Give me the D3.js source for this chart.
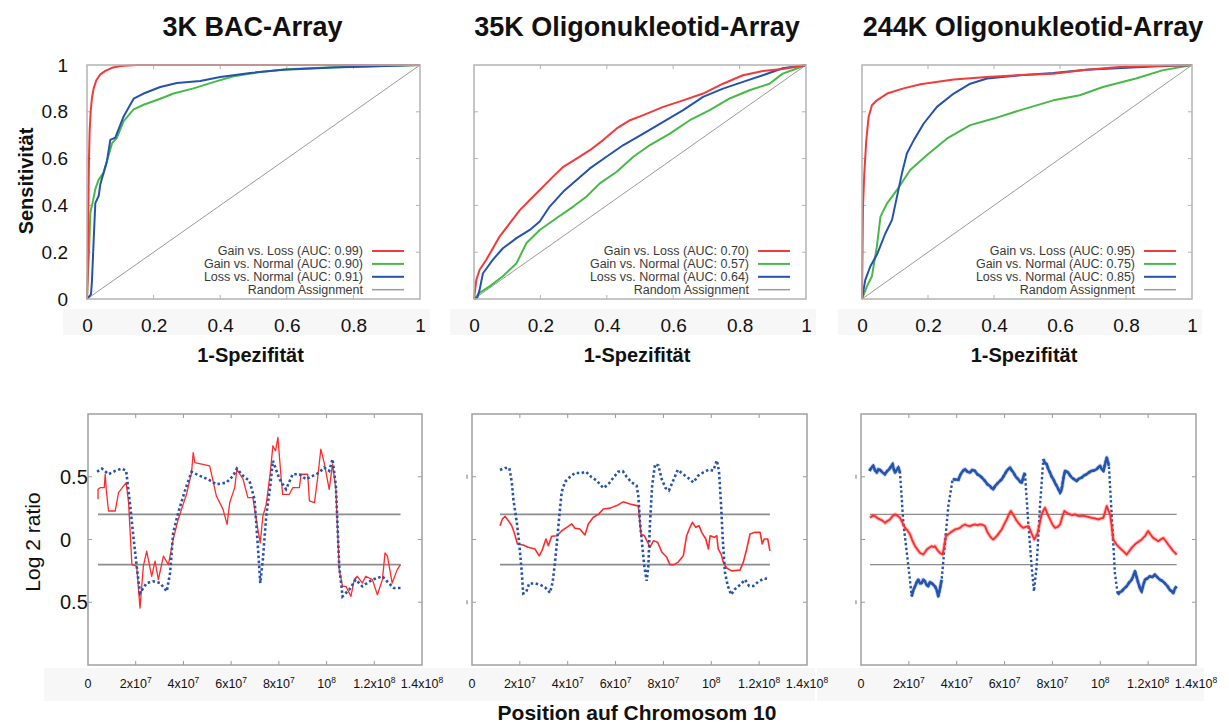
<!DOCTYPE html>
<html>
<head>
<meta charset="utf-8">
<script src="https://cdn.jsdelivr.net/npm/d3@7"></script>
<style>
  body { margin: 0; background: #ffffff; }
  text { font-family: "Liberation Sans", Arial, Helvetica, sans-serif; }
</style>
</head>
<body>
<svg id="fig" width="1229" height="726"></svg>
<script>
// ---------- ROC data: [1-Spezifität, Sensitivität] ----------
const panelTitles = ["3K BAC-Array", "35K Oligonukleotid-Array", "244K Oligonukleotid-Array"];
const rocTicks = [0, 0.2, 0.4, 0.6, 0.8, 1];
const rocTickLabels = ["0", "0.2", "0.4", "0.6", "0.8", "1"];
const randomAssignment = [[0, 0], [1, 1]];

const rocBacGainLoss = [[0,0],[0.002,0.1],[0.004,0.4],[0.006,0.6],[0.008,0.72],[0.011,0.8],[0.015,0.86],[0.02,0.9],[0.028,0.935],[0.04,0.96],[0.055,0.975],[0.075,0.988],[0.1,0.996],[0.15,1],[1,1]];
const rocBacGainNormal = [[0,0],[0.002,0.09],[0.006,0.2],[0.01,0.37],[0.018,0.42],[0.025,0.47],[0.035,0.51],[0.05,0.54],[0.06,0.59],[0.075,0.665],[0.09,0.69],[0.11,0.76],[0.14,0.81],[0.17,0.83],[0.22,0.856],[0.26,0.878],[0.32,0.9],[0.38,0.927],[0.44,0.952],[0.52,0.97],[0.6,0.982],[0.74,0.99],[1,1]];
const rocBacLossNormal = [[0,0],[0.012,0.02],[0.015,0.08],[0.02,0.25],[0.025,0.41],[0.035,0.44],[0.04,0.49],[0.05,0.54],[0.06,0.59],[0.07,0.68],[0.085,0.69],[0.11,0.78],[0.14,0.856],[0.17,0.878],[0.22,0.906],[0.27,0.923],[0.34,0.932],[0.4,0.949],[0.49,0.966],[0.59,0.98],[0.74,0.989],[1,1]];
const legendBac = ["Gain vs. Loss (AUC: 0.99)", "Gain vs. Normal (AUC: 0.90)", "Loss vs. Normal (AUC: 0.91)", "Random Assignment"];

const roc35GainLoss = [[0,0],[0.007,0.082],[0.017,0.125],[0.037,0.168],[0.057,0.217],[0.077,0.267],[0.108,0.324],[0.138,0.38],[0.168,0.423],[0.198,0.466],[0.238,0.523],[0.269,0.565],[0.309,0.6],[0.349,0.636],[0.389,0.679],[0.43,0.729],[0.47,0.764],[0.51,0.786],[0.57,0.821],[0.63,0.849],[0.69,0.878],[0.75,0.92],[0.81,0.956],[0.87,0.974],[0.93,0.983],[1,1]];
const roc35GainNormal = [[0,0],[0.017,0.026],[0.047,0.054],[0.087,0.097],[0.128,0.153],[0.158,0.239],[0.198,0.295],[0.248,0.345],[0.299,0.395],[0.339,0.438],[0.379,0.494],[0.43,0.544],[0.48,0.608],[0.53,0.658],[0.59,0.707],[0.65,0.764],[0.71,0.807],[0.77,0.857],[0.83,0.892],[0.89,0.92],[0.93,0.963],[0.97,0.984],[1,1]];
const roc35LossNormal = [[0,0],[0.01,0.005],[0.017,0.04],[0.027,0.11],[0.042,0.139],[0.057,0.168],[0.087,0.217],[0.128,0.26],[0.168,0.295],[0.198,0.331],[0.228,0.395],[0.269,0.459],[0.309,0.509],[0.349,0.558],[0.399,0.608],[0.45,0.658],[0.51,0.707],[0.57,0.757],[0.63,0.807],[0.69,0.864],[0.75,0.899],[0.81,0.928],[0.87,0.956],[0.93,0.986],[1,1]];
const legend35 = ["Gain vs. Loss (AUC: 0.70)", "Gain vs. Normal (AUC: 0.57)", "Loss vs. Normal (AUC: 0.64)", "Random Assignment"];

const roc244GainLoss = [[0,0],[0.003,0.395],[0.007,0.537],[0.013,0.679],[0.02,0.778],[0.03,0.828],[0.045,0.849],[0.076,0.878],[0.126,0.9],[0.177,0.918],[0.278,0.938],[0.379,0.949],[0.48,0.957],[0.58,0.963],[0.68,0.98],[0.78,0.991],[1,1]];
const roc244GainNormal = [[0,0],[0.015,0.054],[0.03,0.097],[0.045,0.224],[0.056,0.352],[0.076,0.409],[0.106,0.466],[0.146,0.551],[0.197,0.615],[0.258,0.686],[0.328,0.743],[0.399,0.771],[0.48,0.807],[0.58,0.849],[0.66,0.871],[0.73,0.906],[0.83,0.942],[0.91,0.977],[1,1]];
const roc244LossNormal = [[0,0],[0.01,0.082],[0.025,0.139],[0.045,0.189],[0.071,0.281],[0.091,0.338],[0.106,0.4375],[0.121,0.537],[0.136,0.622],[0.157,0.679],[0.187,0.75],[0.227,0.821],[0.278,0.878],[0.328,0.92],[0.379,0.942],[0.48,0.956],[0.58,0.966],[0.68,0.98],[0.88,0.994],[1,1]];
const legend244 = ["Gain vs. Loss (AUC: 0.95)", "Gain vs. Normal (AUC: 0.75)", "Loss vs. Normal (AUC: 0.85)", "Random Assignment"];

// ---------- Chromosome 10 profiles: [position (x10^7 bp), log2 ratio] ----------
const chrTicks = [0, 2, 4, 6, 8, 10, 12, 14];
const chrTickBase = ["0", "2x10", "4x10", "6x10", "8x10", "10", "1.2x10", "1.4x10"];
const chrTickExp = ["", "7", "7", "7", "7", "8", "8", "8"];
const ratioTicks = [0.5, 0, -0.5];
const ratioTickLabels = ["0.5", "0", "0.5"];
const thresholds = [0.2, -0.2];

const bacSmoothed = [[0.38,0.54],[0.58,0.565],[0.86,0.52],[1.14,0.547],[1.42,0.565],[1.6,0.547],[1.77,0.267],[1.9,0.027],[2.04,-0.213],[2.18,-0.427],[2.46,-0.347],[2.74,-0.333],[3.02,-0.347],[3.3,-0.413],[3.44,-0.267],[3.57,0.053],[3.78,0.213],[4.06,0.387],[4.34,0.539],[4.69,0.507],[5.03,0.48],[5.38,0.44],[5.8,0.453],[6.08,0.507],[6.24,0.565],[6.5,0.507],[6.77,0.467],[6.98,0.32],[7.12,-0.053],[7.22,-0.347],[7.33,-0.16],[7.47,0.187],[7.64,0.427],[7.75,0.627],[8.03,0.48],[8.3,0.4],[8.58,0.52],[8.86,0.52],[9.14,0.48],[9.42,0.507],[9.69,0.533],[9.9,0.573],[10.11,0.547],[10.25,0.64],[10.39,0.427],[10.53,-0.213],[10.67,-0.453],[10.95,-0.4],[11.22,-0.32],[11.5,-0.373],[11.92,-0.32],[12.34,-0.293],[12.6,-0.347],[12.82,-0.387],[13.1,-0.387]];
const bacRaw = [[0.42,0.32],[0.42,0.4],[0.51,0.413],[0.68,0.413],[0.72,0.52],[0.77,0.387],[0.86,0.227],[1.14,0.227],[1.28,0.373],[1.6,0.453],[1.7,0.293],[1.84,-0.2],[2.04,-0.213],[2.18,-0.547],[2.32,-0.213],[2.46,-0.093],[2.67,-0.293],[2.81,-0.173],[2.95,-0.32],[3.16,-0.133],[3.37,-0.2],[3.57,0],[3.78,0.16],[4.13,0.36],[4.34,0.533],[4.41,0.693],[4.48,0.613],[5.1,0.587],[5.38,0.347],[5.66,0.24],[5.83,0.12],[5.94,0.293],[6.15,0.413],[6.24,0.56],[6.5,0.48],[6.7,0.333],[6.91,0.333],[7.12,0.08],[7.22,-0.027],[7.33,0.187],[7.47,0.28],[7.64,0.533],[7.75,0.747],[7.86,0.707],[7.96,0.813],[8.1,0.48],[8.16,0.36],[8.44,0.36],[8.58,0.413],[8.86,0.413],[8.93,0.52],[9.21,0.52],[9.28,0.307],[9.49,0.293],[9.62,0.48],[9.76,0.72],[9.9,0.613],[10.11,0.4],[10.25,0.6],[10.39,0.4],[10.53,-0.24],[10.67,-0.373],[10.81,-0.373],[11.02,-0.453],[11.16,-0.32],[11.29,-0.293],[11.5,-0.347],[11.64,-0.293],[11.92,-0.32],[12.13,-0.44],[12.34,-0.32],[12.45,-0.107],[12.55,-0.133],[12.75,-0.347],[12.96,-0.24],[13.1,-0.2]];

const oligo35Smoothed = [[1.17,0.554],[1.38,0.57],[1.56,0.57],[1.66,0.46],[1.73,0.32],[1.87,0.14],[1.98,-0.045],[2.08,-0.26],[2.14,-0.43],[2.26,-0.42],[2.39,-0.35],[2.63,-0.35],[2.84,-0.36],[3.05,-0.38],[3.26,-0.425],[3.37,-0.34],[3.47,-0.18],[3.56,0.0],[3.65,0.19],[3.75,0.38],[3.89,0.46],[4.1,0.5],[4.3,0.53],[4.58,0.53],[4.76,0.54],[5.0,0.496],[5.21,0.47],[5.49,0.41],[5.7,0.44],[5.9,0.49],[6.11,0.54],[6.3,0.545],[6.46,0.5],[6.67,0.455],[6.88,0.43],[6.95,0.35],[7.02,0.14],[7.09,0.0],[7.2,-0.21],[7.3,-0.33],[7.37,-0.21],[7.44,0.14],[7.53,0.43],[7.65,0.6],[7.79,0.59],[7.93,0.48],[8.09,0.41],[8.23,0.39],[8.41,0.47],[8.6,0.555],[8.83,0.52],[9.04,0.49],[9.25,0.455],[9.46,0.51],[9.67,0.535],[9.88,0.555],[10.09,0.55],[10.23,0.63],[10.32,0.55],[10.41,0.27],[10.48,0.0],[10.57,-0.26],[10.69,-0.37],[10.83,-0.44],[10.99,-0.395],[11.24,-0.355],[11.41,-0.32],[11.58,-0.37],[11.76,-0.37],[11.97,-0.335],[12.22,-0.31],[12.41,-0.315]];
const oligo35Raw = [[1.17,0.11],[1.27,0.163],[1.38,0.185],[1.52,0.15],[1.66,0.11],[1.76,0.057],[1.9,-0.036],[2.14,-0.044],[2.35,-0.062],[2.63,-0.076],[2.81,-0.13],[2.95,-0.076],[3.09,0.004],[3.19,-0.05],[3.33,0.026],[3.56,0.03],[3.75,0.07],[3.96,0.097],[4.17,0.124],[4.3,0.09],[4.51,0.084],[4.72,0.036],[4.86,0.124],[5.07,0.177],[5.28,0.2],[5.49,0.243],[5.77,0.25],[6.05,0.27],[6.32,0.3],[6.6,0.283],[6.88,0.27],[6.95,0.27],[7.06,0.044],[7.2,0.03],[7.34,-0.022],[7.44,-0.062],[7.58,-0.01],[7.76,-0.022],[7.93,-0.1],[8.14,-0.142],[8.27,-0.2],[8.45,-0.2],[8.62,-0.18],[8.83,-0.13],[8.97,0.03],[9.11,0.097],[9.21,0.137],[9.35,0.097],[9.49,0.11],[9.6,0.057],[9.77,0.004],[9.88,-0.076],[9.95,0.03],[10.13,0.017],[10.23,0.03],[10.29,-0.076],[10.41,-0.116],[10.5,-0.18],[10.64,-0.227],[10.85,-0.25],[11.2,-0.244],[11.34,-0.18],[11.48,-0.076],[11.62,0.044],[11.83,0.057],[12.04,0.057],[12.13,-0.036],[12.21,0.004],[12.36,0.004],[12.45,-0.09]];

const oligo244Smoothed = [[0.35,0.547],[0.43,0.57],[0.51,0.587],[0.59,0.55],[0.66,0.533],[0.72,0.56],[0.79,0.555],[0.9,0.535],[1.0,0.52],[1.09,0.545],[1.18,0.56],[1.25,0.58],[1.32,0.6],[1.37,0.56],[1.42,0.533],[1.49,0.555],[1.56,0.573],[1.63,0.533],[1.77,0.133],[1.98,-0.213],[2.12,-0.453],[2.19,-0.4],[2.26,-0.373],[2.33,-0.34],[2.39,-0.32],[2.47,-0.35],[2.54,-0.347],[2.6,-0.32],[2.67,-0.333],[2.74,-0.36],[2.81,-0.373],[2.88,-0.34],[2.95,-0.347],[3.02,-0.36],[3.09,-0.373],[3.16,-0.4],[3.23,-0.453],[3.3,-0.39],[3.37,-0.32],[3.51,-0.027],[3.65,0.267],[3.83,0.48],[4.07,0.475],[4.14,0.51],[4.21,0.533],[4.28,0.55],[4.35,0.56],[4.45,0.54],[4.55,0.533],[4.65,0.555],[4.76,0.547],[4.86,0.52],[4.97,0.507],[5.07,0.49],[5.18,0.467],[5.28,0.44],[5.39,0.427],[5.46,0.41],[5.53,0.4],[5.6,0.425],[5.67,0.44],[5.77,0.46],[5.88,0.48],[5.98,0.51],[6.09,0.547],[6.16,0.56],[6.23,0.573],[6.3,0.55],[6.37,0.533],[6.47,0.5],[6.57,0.48],[6.65,0.46],[6.72,0.453],[6.79,0.5],[6.85,0.533],[6.99,0.133],[7.13,-0.213],[7.23,-0.413],[7.34,-0.213],[7.48,0.267],[7.62,0.64],[7.69,0.61],[7.76,0.6],[7.83,0.56],[7.9,0.533],[7.97,0.5],[8.04,0.48],[8.11,0.45],[8.18,0.427],[8.25,0.4],[8.32,0.373],[8.37,0.39],[8.41,0.427],[8.47,0.5],[8.53,0.547],[8.6,0.54],[8.66,0.533],[8.74,0.51],[8.81,0.493],[8.91,0.48],[9.01,0.467],[9.11,0.485],[9.22,0.493],[9.32,0.51],[9.43,0.52],[9.53,0.535],[9.64,0.547],[9.74,0.55],[9.85,0.56],[9.92,0.575],[9.99,0.587],[10.06,0.56],[10.13,0.547],[10.2,0.6],[10.27,0.653],[10.36,0.587],[10.48,0.187],[10.61,-0.267],[10.73,-0.44],[10.81,-0.42],[10.89,-0.413],[11.0,-0.39],[11.1,-0.373],[11.2,-0.345],[11.31,-0.32],[11.38,-0.29],[11.45,-0.253],[11.52,-0.3],[11.59,-0.347],[11.66,-0.39],[11.73,-0.413],[11.8,-0.36],[11.87,-0.32],[11.97,-0.31],[12.07,-0.293],[12.18,-0.3],[12.28,-0.28],[12.38,-0.3],[12.49,-0.32],[12.59,-0.33],[12.69,-0.347],[12.8,-0.37],[12.9,-0.4],[12.97,-0.41],[13.05,-0.427],[13.12,-0.39],[13.19,-0.373]];
const oligo244SmoothedDense = [[0.3,1.65],[2.1,3.4],[3.8,6.86],[7.6,10.37],[10.7,13.25]];
const oligo244Raw = [[0.38,0.173],[0.48,0.19],[0.59,0.187],[0.69,0.17],[0.79,0.16],[0.9,0.15],[1.0,0.133],[1.1,0.148],[1.21,0.16],[1.31,0.185],[1.42,0.2],[1.52,0.19],[1.63,0.173],[1.74,0.13],[1.84,0.093],[1.95,0.07],[2.05,0.04],[2.15,-0.01],[2.26,-0.053],[2.36,-0.08],[2.47,-0.107],[2.6,-0.12],[2.68,-0.1],[2.75,-0.08],[2.85,-0.065],[2.95,-0.053],[3.02,-0.06],[3.09,-0.053],[3.16,-0.075],[3.23,-0.093],[3.32,-0.11],[3.41,-0.12],[3.48,-0.05],[3.55,0.027],[3.63,0.04],[3.72,0.053],[3.83,0.068],[3.93,0.08],[4.03,0.085],[4.14,0.093],[4.24,0.11],[4.35,0.12],[4.45,0.11],[4.55,0.107],[4.66,0.115],[4.76,0.12],[4.86,0.115],[4.97,0.12],[5.07,0.118],[5.18,0.107],[5.28,0.06],[5.39,0.027],[5.46,0.01],[5.53,0],[5.6,0.015],[5.67,0.027],[5.78,0.055],[5.88,0.08],[5.98,0.12],[6.09,0.16],[6.18,0.2],[6.26,0.227],[6.35,0.2],[6.44,0.173],[6.5,0.15],[6.57,0.133],[6.67,0.11],[6.78,0.093],[6.88,0.1],[6.99,0.107],[7.06,0.08],[7.15,0.04],[7.24,0],[7.31,0.025],[7.38,0.053],[7.47,0.13],[7.55,0.2],[7.62,0.23],[7.69,0.253],[7.8,0.2],[7.9,0.16],[8.0,0.12],[8.11,0.093],[8.22,0.1],[8.32,0.12],[8.41,0.18],[8.5,0.227],[8.62,0.21],[8.73,0.2],[8.84,0.195],[8.94,0.2],[9.05,0.19],[9.15,0.187],[9.25,0.19],[9.36,0.187],[9.5,0.18],[9.64,0.173],[9.78,0.168],[9.92,0.16],[10.03,0.168],[10.13,0.173],[10.2,0.22],[10.27,0.267],[10.34,0.23],[10.41,0.2],[10.48,0.1],[10.54,0],[10.61,-0.02],[10.68,-0.04],[10.78,-0.06],[10.89,-0.08],[11.0,-0.1],[11.1,-0.12],[11.2,-0.095],[11.31,-0.067],[11.42,-0.045],[11.52,-0.027],[11.62,-0.015],[11.73,0],[11.8,0.015],[11.87,0.027],[11.94,0.05],[12.0,0.067],[12.1,0.04],[12.21,0.013],[12.32,0],[12.42,-0.013],[12.52,0],[12.63,0.013],[12.73,-0.01],[12.84,-0.04],[12.94,-0.065],[13.05,-0.093],[13.12,-0.105],[13.19,-0.12]];

// ---------- colours ----------
const colRed = "#f23a3a";
const colGreen = "#47b947";
const colBlue = "#2453ad";
const colDiag = "#9a9a9a";
const colFrame = "#b3b3b3";

const svg = d3.select("#fig");
const bandLayer = svg.append("g");   // faint label bands go underneath everything

// ---------- ROC panels ----------
const rocFrames = [[87, 420], [474, 806], [862, 1192]];
const rocY = d3.scaleLinear().domain([0, 1]).range([299, 65]);
const rocCurves = [
  [rocBacGainLoss, rocBacGainNormal, rocBacLossNormal],
  [roc35GainLoss, roc35GainNormal, roc35LossNormal],
  [roc244GainLoss, roc244GainNormal, roc244LossNormal]
];
const rocLegends = [legendBac, legend35, legend244];
const curveColors = [colRed, colGreen, colBlue, colDiag];

rocFrames.forEach((fr, i) => {
  const x = d3.scaleLinear().domain([0, 1]).range(fr);
  const g = svg.append("g");
  const [y0, y1] = rocY.range();

  bandLayer.append("rect").attr("x", fr[0] - 24).attr("y", 309)
    .attr("width", fr[1] - fr[0] + 34).attr("height", 26).attr("fill", "#f7f7f7");

  // inner tick marks on all four sides
  const inner = [0.2, 0.4, 0.6, 0.8];
  g.selectAll(".tb").data(inner).join("line")
    .attr("x1", d => x(d)).attr("x2", d => x(d)).attr("y1", y0).attr("y2", y0 - 4)
    .attr("stroke", colFrame).attr("stroke-width", 1);
  g.selectAll(".tt").data(inner).join("line")
    .attr("x1", d => x(d)).attr("x2", d => x(d)).attr("y1", y1).attr("y2", y1 + 4)
    .attr("stroke", colFrame).attr("stroke-width", 1);
  g.selectAll(".tl").data(inner).join("line")
    .attr("x1", fr[0]).attr("x2", fr[0] + 4).attr("y1", d => rocY(d)).attr("y2", d => rocY(d))
    .attr("stroke", colFrame).attr("stroke-width", 1);
  g.selectAll(".tr").data(inner).join("line")
    .attr("x1", fr[1]).attr("x2", fr[1] - 4).attr("y1", d => rocY(d)).attr("y2", d => rocY(d))
    .attr("stroke", colFrame).attr("stroke-width", 1);

  const line = d3.line().x(d => x(d[0])).y(d => rocY(d[1]));

  // random assignment diagonal
  g.append("path").attr("d", line(randomAssignment))
    .attr("fill", "none").attr("stroke", colDiag).attr("stroke-width", 1);

  // ROC curves, red drawn last so it stays on top
  [1, 2, 0].forEach(k => {
    g.append("path").attr("d", line(rocCurves[i][k]))
      .attr("fill", "none").attr("stroke", curveColors[k])
      .attr("stroke-width", 2).attr("stroke-linejoin", "round");
  });

  // frame
  g.append("rect").attr("x", fr[0]).attr("y", y1)
    .attr("width", fr[1] - fr[0]).attr("height", y0 - y1)
    .attr("fill", "none").attr("stroke", colFrame).attr("stroke-width", 1.5);

  // legend
  const lg = g.append("g");
  rocLegends[i].forEach((txt, k) => {
    const cy = 251 + k * 12.9;
    lg.append("text").attr("x", fr[1] - 57).attr("y", cy + 4.3)
      .attr("text-anchor", "end").attr("font-size", 12.5).attr("fill", "#3a3a3a").text(txt);
    lg.append("line").attr("x1", fr[1] - 48).attr("x2", fr[1] - 16)
      .attr("y1", cy).attr("y2", cy)
      .attr("stroke", curveColors[k]).attr("stroke-width", k === 3 ? 1.5 : 2);
  });

  // x tick labels
  const ax = g.append("g").attr("transform", "translate(0,318)")
    .call(d3.axisBottom(x).tickValues(rocTicks).tickFormat((d, j) => rocTickLabels[j]).tickSize(0).tickPadding(0));
  ax.select(".domain").remove();
  ax.selectAll("text").attr("font-size", 19).attr("fill", "#111")
    .attr("font-family", "'Liberation Sans', Arial, sans-serif");

  // y tick labels on the first panel only
  if (i === 0) {
    const ay = g.append("g").attr("transform", `translate(${fr[0] - 19},0)`)
      .call(d3.axisLeft(rocY).tickValues(rocTicks).tickFormat((d, j) => rocTickLabels[j]).tickSize(0).tickPadding(0));
    ay.select(".domain").remove();
    ay.selectAll("text").attr("font-size", 19).attr("fill", "#111")
      .attr("font-family", "'Liberation Sans', Arial, sans-serif");
  }

  // axis title
  g.append("text").attr("x", (fr[0] + fr[1]) / 2 - 3).attr("y", 362)
    .attr("text-anchor", "middle").attr("font-size", 20).attr("font-weight", "bold")
    .attr("fill", "#111").text("1-Spezifität");

  // panel title
  g.append("text").attr("x", (fr[0] + fr[1]) / 2 + [-1, -3, 6][i]).attr("y", 36)
    .attr("text-anchor", "middle").attr("font-size", 27).attr("font-weight", "bold")
    .attr("fill", "#111").text(panelTitles[i]);
});

svg.append("text").attr("transform", "translate(33,181) rotate(-90)")
  .attr("text-anchor", "middle").attr("font-size", 20).attr("font-weight", "bold")
  .attr("fill", "#111").text("Sensitivität");

// ---------- chromosome 10 panels ----------
const chrFrames = [[88, 422], [472, 807], [861, 1196]];
const chrY = d3.scaleLinear().domain([-1, 1]).range([665, 414]);
const chrSmoothed = [bacSmoothed, oligo35Smoothed, oligo244Smoothed];
const chrRaw = [bacRaw, oligo35Raw, oligo244Raw];

chrFrames.forEach((fr, i) => {
  const x = d3.scaleLinear().domain([0, 14]).range(fr);
  const g = svg.append("g");
  const [y0, y1] = chrY.range();

  bandLayer.append("rect").attr("x", fr[0] - 44).attr("y", 668)
    .attr("width", fr[1] - fr[0] + 52).attr("height", 33).attr("fill", "#f7f7f7");

  // inner ticks
  const innerX = chrTicks.slice(1, -1);
  g.selectAll(".tb").data(innerX).join("line")
    .attr("x1", d => x(d)).attr("x2", d => x(d)).attr("y1", y0).attr("y2", y0 - 4)
    .attr("stroke", "#999").attr("stroke-width", 1);
  g.selectAll(".tt").data(innerX).join("line")
    .attr("x1", d => x(d)).attr("x2", d => x(d)).attr("y1", y1).attr("y2", y1 + 4)
    .attr("stroke", "#999").attr("stroke-width", 1);
  g.selectAll(".tl").data(ratioTicks).join("line")
    .attr("x1", fr[0]).attr("x2", fr[0] + 4).attr("y1", d => chrY(d)).attr("y2", d => chrY(d))
    .attr("stroke", "#999").attr("stroke-width", 1);
  g.selectAll(".tr").data(ratioTicks).join("line")
    .attr("x1", fr[1]).attr("x2", fr[1] - 4).attr("y1", d => chrY(d)).attr("y2", d => chrY(d))
    .attr("stroke", "#999").attr("stroke-width", 1);

  // gain / loss thresholds across the covered region
  const ext = d3.extent(chrRaw[i], d => d[0]);
  g.selectAll(".thr").data(thresholds).join("line")
    .attr("x1", x(ext[0])).attr("x2", x(ext[1]))
    .attr("y1", d => chrY(d)).attr("y2", d => chrY(d))
    .attr("stroke", "#8c8c8c").attr("stroke-width", i === 2 ? 1.3 : 1.8);

  const line = d3.line().x(d => x(d[0])).y(d => chrY(d[1]));

  if (i === 2) {
    // dense 244K profile: dotted everywhere, solid band where probes are dense
    g.append("path").attr("d", line(chrSmoothed[i]))
      .attr("fill", "none").attr("stroke", colBlue).attr("stroke-width", 2.4)
      .attr("stroke-dasharray", "2.4 2.4");
    const inDense = d => oligo244SmoothedDense.some(r => d[0] >= r[0] && d[0] <= r[1]);
    const denseLine = d3.line().defined(inDense).x(d => x(d[0])).y(d => chrY(d[1]));
    g.append("path").attr("d", denseLine(chrSmoothed[i]))
      .attr("fill", "none").attr("stroke", colBlue).attr("stroke-opacity", 0.3)
      .attr("stroke-width", 4.2).attr("stroke-linejoin", "round");
    g.append("path").attr("d", denseLine(chrSmoothed[i]))
      .attr("fill", "none").attr("stroke", colBlue)
      .attr("stroke-width", 2.4).attr("stroke-linejoin", "round");
    g.append("path").attr("d", line(chrRaw[i]))
      .attr("fill", "none").attr("stroke", "#ff3030").attr("stroke-opacity", 0.3)
      .attr("stroke-width", 4).attr("stroke-linejoin", "round");
    g.append("path").attr("d", line(chrRaw[i]))
      .attr("fill", "none").attr("stroke", "#ff2a2a")
      .attr("stroke-width", 1.8).attr("stroke-linejoin", "round");
  } else {
    g.append("path").attr("d", line(chrRaw[i]))
      .attr("fill", "none").attr("stroke", "#ff2a2a")
      .attr("stroke-width", i === 0 ? 1.3 : 1.6).attr("stroke-linejoin", "round");
    g.append("path").attr("d", line(chrSmoothed[i]))
      .attr("fill", "none").attr("stroke", colBlue).attr("stroke-width", 2.6)
      .attr("stroke-dasharray", "2.5 2.5");
  }

  // frame
  g.append("rect").attr("x", fr[0]).attr("y", y1)
    .attr("width", fr[1] - fr[0]).attr("height", y0 - y1)
    .attr("fill", "none").attr("stroke", "#a0a0a0").attr("stroke-width", 1.5);

  // x tick labels with exponents
  const lab = g.selectAll(".xl").data(chrTicks).join("text")
    .attr("x", d => x(d)).attr("y", 688).attr("text-anchor", "middle")
    .attr("font-size", 12.5).attr("fill", "#111");
  lab.append("tspan").text((d, j) => chrTickBase[j]);
  lab.append("tspan").attr("dy", -5).attr("font-size", 8.5).text((d, j) => chrTickExp[j]);

  // y tick labels only on the first panel; small marks elsewhere
  if (i === 0) {
    g.selectAll(".yl").data(ratioTicks).join("text")
      .attr("x", 60).attr("y", d => chrY(d) + 7)
      .attr("font-size", 20).attr("fill", "#111")
      .text((d, j) => ratioTickLabels[j]);
  } else {
    g.selectAll(".ym").data([0.5, -0.5]).join("line")
      .attr("x1", fr[0] - 5).attr("x2", fr[0] - 5)
      .attr("y1", d => chrY(d) - 2).attr("y2", d => chrY(d) + 2)
      .attr("stroke", "#777").attr("stroke-width", 1);
  }
});

svg.append("text").attr("transform", "translate(40,542) rotate(-90)")
  .attr("text-anchor", "middle").attr("font-size", 21)
  .attr("fill", "#111").text("Log 2 ratio");

svg.append("text").attr("x", 637).attr("y", 720)
  .attr("text-anchor", "middle").attr("font-size", 21).attr("font-weight", "bold")
  .attr("fill", "#111").text("Position auf Chromosom 10");
</script>
</body>
</html>
